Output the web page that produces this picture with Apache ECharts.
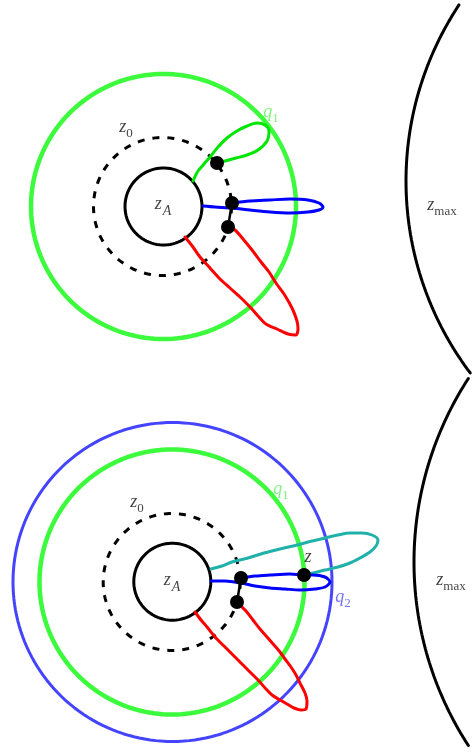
<!DOCTYPE html>
<html><head><meta charset="utf-8">
<script src="https://cdn.jsdelivr.net/npm/echarts@6/dist/echarts.min.js"></script>
<style>html,body{margin:0;padding:0;background:#fff}#c{width:473px;height:755px}</style>
</head><body><div id="c"></div>
<script>
// ---- data (diagram coordinates, y downward) ----
const circleNames   = ['zA_top','z0_top','q1_top','zA_bot','z0_bot','q1_bot','q2_bot'];
const circleCenters = [[163.5,206.5],[162.5,206.5],[163.5,206.5],[172.3,581.7],[171.7,582],[172,582],[172.5,582]];
const circleRadii   = [38.5,69,132.5,38.5,68.5,132.5,159.5];

const arcCenters = [[725,181],[751,562]];
const arcRadii   = [319,337];
const arcAngles  = [[143,213.5],[147,213]];

const topGreenLoop = [[193,181],[198,171],[204,164],[210,157],[218,147],[227,138],[237,131],[247,126],[257,123],[265,125],[269,131],[267,141],[258,150],[247,155],[236,158],[225,161],[217,163]];
const topBlueLoop  = [[203,206],[215,207],[232,208],[250,210],[270,212],[290,213],[308,212],[319,210],[323,207],[319,203],[308,200],[290,199],[270,200],[250,201],[232,203]];
const topRedLoop   = [[185,237],[193,247],[200,257],[210,268],[220,279],[230,288],[240,297],[250,307],[258,316],[266,324],[277,329],[288,334],[296,335],[298,329],[297,321],[292,308],[284,294],[276,283],[269,272],[261,262],[252,250],[243,239],[235,230],[229,227]];
const botCyanLoop  = [[211,569],[222,566],[232,562],[248,558],[264,553],[280,549],[297,545],[312,541],[325,538],[338,535],[350,533],[362,533],[372,535],[378,540],[376,546],[370,552],[360,558],[350,563],[338,567],[325,570],[313,573],[304,575]];
const botBlueLoop  = [[211,581],[225,581],[241,583],[255,586],[270,588],[285,589],[300,590],[315,589],[325,587],[330,582],[325,577],[313,575],[304,575],[290,574],[270,575],[255,576],[241,578]];
const botRedLoop   = [[195,612],[201,620],[207,627],[215,637],[224,646],[233,655],[242,664],[251,673],[259,681],[266,689],[272,695],[280,700],[287,704],[294,708],[301,710],[306,709],[307,701],[305,693],[301,685],[296,675],[291,667],[285,659],[280,652],[274,645],[267,637],[260,629],[253,620],[246,611],[241,606],[237,602]];
const dotSegments  = [[[232,203],[228,227]],[[241,578],[237,602]]];
const dotPoints    = [[217,163],[232,203],[228,227],[241,578],[237,602],[304,575]];

const labelPoints  = [[126,127],[163,204],[271,112],[442,205],[137,502],[172,580],[281,489],[308,557],[343,597],[451,580]];
const labelTexts   = ['{i|z}{s|0}','{i|z}{si|A}','{gi|q}{gs|1}','{i|z}{s|max}','{i|z}{s|0}','{i|z}{si|A}','{gi|q}{gs|1}','{i|z}','{bi|q}{bs|2}','{i|z}{s|max}'];

// ---- build ----
function circlePts(c, r, a0, a1, n) {
  const pts = [];
  for (let k = 0; k <= n; k++) {
    const a = (a0 + (a1 - a0) * k / n) * Math.PI / 180;
    pts.push([c[0] + r * Math.cos(a), c[1] + r * Math.sin(a)]);
  }
  return pts;
}
const circleStyles = [
  {color:'#000', width:3},
  {color:'#000', width:3, type:[7,8]},
  {color:'#3cfa3c', width:4.5},
  {color:'#000', width:3},
  {color:'#000', width:3, type:[7,8]},
  {color:'#3cfa3c', width:4.5},
  {color:'#4444ff', width:3}
];
const series = [];
circleNames.forEach((nm, i) => {
  series.push({type:'line', name:nm, data:circlePts(circleCenters[i], circleRadii[i], 0, 360, 180),
    showSymbol:false, silent:true, lineStyle:circleStyles[i], z:2});
});
arcCenters.forEach((c, i) => {
  series.push({type:'line', data:circlePts(c, arcRadii[i], arcAngles[i][0], arcAngles[i][1], 80),
    showSymbol:false, silent:true, lineStyle:{color:'#000', width:3, cap:'round'}, z:2});
});
const loops = [[topGreenLoop,'#00e600'],[topBlueLoop,'#0000ff'],[topRedLoop,'#ff0000'],[botCyanLoop,'#20b2aa'],[botBlueLoop,'#0000ff'],[botRedLoop,'#ff0000']];
loops.forEach(([d, col]) => {
  series.push({type:'line', data:d, showSymbol:false, smooth:0.3, silent:true,
    lineStyle:{color:col, width:3, cap:'round', join:'round'}, z:3});
});
dotSegments.forEach(d => {
  series.push({type:'line', data:d, showSymbol:false, silent:true, lineStyle:{color:'#000', width:2.5}, z:3});
});
series.push({type:'scatter', data:dotPoints, symbolSize:14, itemStyle:{color:'#000', opacity:1}, z:5, silent:true});

const serif = '"Liberation Serif","DejaVu Serif",serif';
const rich = {
  i:  {fontFamily:serif, fontStyle:'italic', fontSize:18, color:'#111', lineHeight:22, verticalAlign:'middle'},
  s:  {fontFamily:serif, fontSize:13, color:'#111', lineHeight:12, padding:[11,0,0,0], verticalAlign:'top'},
  si: {fontFamily:serif, fontStyle:'italic', fontSize:14, color:'#111', lineHeight:12, padding:[11,0,0,1], verticalAlign:'top'},
  gi: {fontFamily:serif, fontStyle:'italic', fontSize:18, color:'#5ef05e', lineHeight:22, verticalAlign:'middle'},
  gs: {fontFamily:serif, fontSize:13, color:'#5ef05e', lineHeight:12, padding:[11,0,0,0], verticalAlign:'top'},
  bi: {fontFamily:serif, fontStyle:'italic', fontSize:18, color:'#5050f5', lineHeight:22, verticalAlign:'middle'},
  bs: {fontFamily:serif, fontSize:13, color:'#5050f5', lineHeight:12, padding:[11,0,0,0], verticalAlign:'top'}
};
series.push({type:'scatter', symbolSize:0, silent:true, z:6,
  data: labelPoints.map((p, i) => ({value:p, label:{show:true, position:'inside', formatter:labelTexts[i], rich:rich}}))
});

const chart = echarts.init(document.getElementById('c'), null, {renderer:'canvas'});
chart.setOption({
  animation:false,
  backgroundColor:'#fff',
  grid:{left:0, right:0, top:0, bottom:0},
  xAxis:{type:'value', min:0, max:473, show:false},
  yAxis:{type:'value', min:0, max:755, inverse:true, show:false},
  series:series
});
</script></body></html>
